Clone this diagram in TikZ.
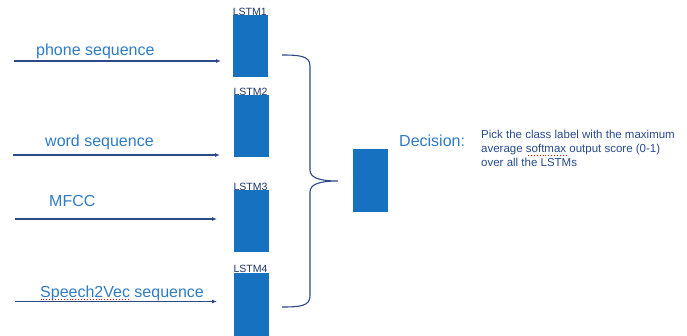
\documentclass[tikz,border=0pt]{standalone}
\usepackage{fontspec}
\setmainfont{Liberation Sans}
\usetikzlibrary{arrows.meta}
\definecolor{boxblue}{RGB}{22,113,192}
\definecolor{txtblue}{RGB}{46,123,198}
\definecolor{navy}{RGB}{44,72,134}
\definecolor{lblnavy}{RGB}{30,53,102}
\definecolor{smallnavy}{RGB}{40,74,140}
\tikzset{
  lstmbox/.style={fill=boxblue, draw=none, minimum width=35pt, minimum height=62pt, anchor=north west, inner sep=0pt},
  lstmlabel/.style={text=lblnavy, font=\fontsize{10.5}{12}\selectfont, anchor=base west, inner sep=0pt},
  inlabel/.style={text=txtblue, font=\fontsize{16}{19}\selectfont, anchor=base west, inner sep=0pt},
  inarrow/.style={draw=navy, line width=1.2pt, -{Latex[length=5pt,width=4pt]}},
  bracepath/.style={draw=navy, line width=1.1pt},
  spell/.style={draw=red, line width=0.9pt, dotted}
}
\begin{document}
\begin{tikzpicture}[x=1pt,y=-1pt]
\useasboundingbox (0,0) rectangle (687,335);
% LSTM boxes
\node[lstmbox] (b1) at (232.7,15) {};
\node[lstmbox] (b2) at (233.3,95) {};
\node[lstmbox] (b3) at (233.3,190) {};
\node[lstmbox, minimum height=70pt] (b4) at (233.3,272.7) {};
\node[lstmlabel] (l1) at (b1.north west) {LSTM1};
\node[lstmlabel] (l2) at (b2.north west) {LSTM2};
\node[lstmlabel] (l3) at (b3.north west) {LSTM3};
\node[lstmlabel] (l4) at (b4.north west) {LSTM4};
% decision box
\node[lstmbox, minimum height=63pt] (dec) at (353,149) {};
% input arrows
\coordinate (s1) at (14,61);   \coordinate (e1) at (221,61);
\coordinate (s2) at (13,155);  \coordinate (e2) at (220,155);
\coordinate (s3) at (15,219);  \coordinate (e3) at (217,219);
\coordinate (s4) at (15,301.5);\coordinate (e4) at (217,301.5);
\draw[inarrow] (s1) -- (e1);
\draw[inarrow] (s2) -- (e2);
\draw[inarrow] (s3) -- (e3);
\draw[inarrow] (s4) -- (e4);
% input labels
\node[inlabel] (t1) at (36,55) {phone sequence};
\node[inlabel] (t2) at (45,146) {word sequence};
\node[inlabel] (t3) at (49,206.5) {MFCC};
\node[inlabel] (t4) at (40,297.5) {Speech2Vec sequence};
\draw[spell] (40.5,299.5) -- (129,299.5);
% brace
\draw[bracepath] (282,55) .. controls (300,55) and (310,56) .. (310,66) -- (310,170)
  .. controls (310,178) and (320,181) .. (338,181)
  .. controls (320,181) and (310,184) .. (310,192) -- (310,296)
  .. controls (310,306) and (300,307) .. (282,307);
% decision text
\node[inlabel] (dlabel) at (399,146) {Decision:};
\node[text=smallnavy, font=\fontsize{11.5}{14.3}\selectfont, anchor=base west, align=left, inner sep=0pt] (dtext) at (481,166.9)
  {Pick the class label with the maximum\\average softmax output score (0-1)\\over all the LSTMs};
\draw[spell] (528,155) -- (567,155);
\end{tikzpicture}
\end{document}
